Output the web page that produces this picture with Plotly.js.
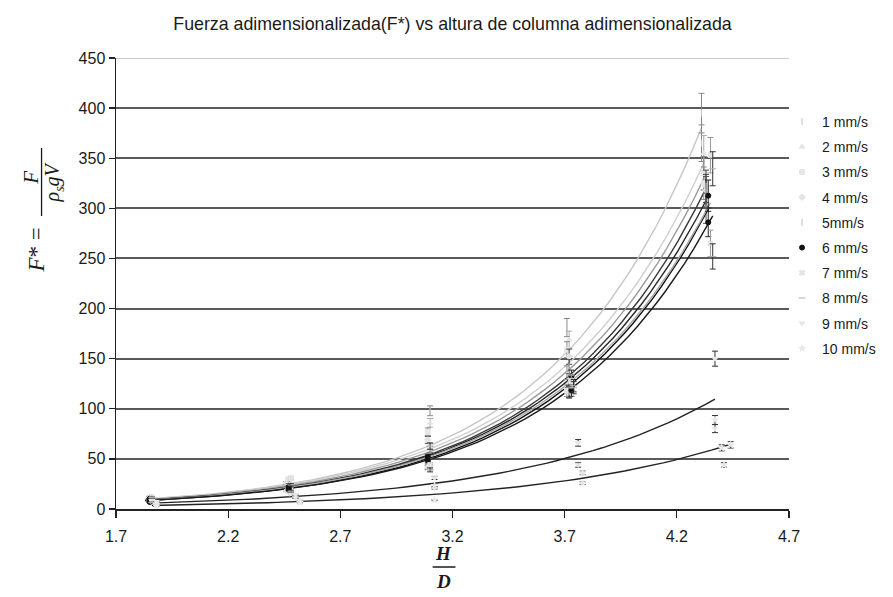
<!DOCTYPE html>
<html>
<head>
<meta charset="utf-8">
<script src="https://cdn.plot.ly/plotly-3.0.1.min.js"></script>
<style>html,body{margin:0;padding:0;background:#fff;}#chart{width:893px;height:597px;}</style>
</head>
<body>
<div id="chart"></div>
<script>
// ---- data (repeated tests at each H/D level) ----
const seriesNames = ['1 mm/s','2 mm/s','3 mm/s','4 mm/s','5mm/s','6 mm/s','7 mm/s','8 mm/s','9 mm/s','10 mm/s'];

const x1 = [1.85, 1.85, 2.47, 2.47, 3.10, 3.10, 3.71, 3.71, 4.31, 4.31];
const y1 = [9, 11, 22, 28.4, 41, 98, 136, 181, 365, 395];
const x2 = [1.85, 1.85, 2.48, 2.48, 3.10, 3.10, 3.72, 3.72, 4.32, 4.32];
const y2 = [8, 12.5, 20, 30.5, 86, 42, 169, 126, 335, 355];
const x3 = [1.86, 1.86, 2.47, 2.47, 3.09, 3.09, 3.71, 3.71, 4.32, 4.32];
const y3 = [8, 11.6, 18, 29.6, 77, 41.3, 159, 118, 325, 335];
const x4 = [1.85, 1.85, 2.46, 2.46, 3.09, 3.09, 3.72, 3.72, 4.33, 4.33];
const y4 = [7, 11.6, 26, 18.1, 69, 41.8, 152, 116.4, 318, 322];
const x5 = [1.86, 1.86, 2.47, 2.47, 3.10, 3.10, 3.72, 3.72, 4.33, 4.33];
const y5 = [7.5, 11.1, 24, 19.8, 59, 48.3, 142, 117.2, 300, 316];
const x6 = [1.85, 1.85, 2.47, 2.47, 3.09, 3.09, 3.73, 3.73, 4.34, 4.34];
const y6 = [7, 10.3, 22, 19.3, 52, 48.3, 132, 118.4, 286, 312.6];
const x7 = [1.86, 1.86, 2.48, 2.48, 3.10, 3.10, 3.73, 3.73, 4.35, 4.35];
const y7 = [8, 10.4, 31, 15.5, 44, 62.4, 127, 128, 265, 353];
const x8 = [1.86, 1.86, 2.48, 2.48, 3.10, 3.10, 3.74, 3.74, 4.36, 4.36];
const y8 = [6.5, 11.4, 24, 17.8, 39, 62.8, 121, 123, 252, 339.5];
const x9 = [1.88, 1.88, 2.50, 2.50, 3.12, 3.12, 3.76, 3.76, 4.37, 4.37];
const y9 = [5, 7.2, 11, 14, 31, 21, 66, 43.9, 150, 80.2];
const x10 = [1.88, 1.88, 2.52, 2.52, 3.12, 3.12, 3.78, 3.78, 4.44, 4.40, 4.41, 4.37];
const y10 = [3, 4.3, 6.5, 8.4, 9, 23.4, 36, 25.8, 64, 61, 44, 88.8];

const xTickVals = [1.7, 2.2, 2.7, 3.2, 3.7, 4.2, 4.7];
const xTickText = ['1.7', '2.2', '2.7', '3.2', '3.7', '4.2', '4.7'];
const yTickVals = [0, 50, 100, 150, 200, 250, 300, 350, 400, 450];

// ---- styles ----
const xs = [x1,x2,x3,x4,x5,x6,x7,x8,x9,x10];
const ys = [y1,y2,y3,y4,y5,y6,y7,y8,y9,y10];
const markerColors = ['#c4c4c4','#e4e4e4','#e6e6e6','#e2e2e2','#bdbdbd','#111111','#e4e4e4','#b0b0b0','#e6e6e6','#e8e8e8'];
const markerSymbols = ['line-ns-open','triangle-up','square','diamond','line-ns-open','circle','x','line-ew-open','triangle-down','star'];
const lineColors = ['#c6c6c6','#cfcfcf','#9a9a9a','#3a3a3a','#262626','#111111','#a8a8a8','#1a1a1a','#222222','#222222'];
const errColors = ['#888','#aaa','#888','#444','#555','#222','#999','#333','#333','#333'];

// exponential trend line (least squares on ln y), as a spreadsheet trendline does
function expFit(xv, yv) {
  const n = xv.length;
  let sx=0, sy=0, sxx=0, sxy=0;
  for (let i=0;i<n;i++){ const l=Math.log(yv[i]); sx+=xv[i]; sy+=l; sxx+=xv[i]*xv[i]; sxy+=xv[i]*l; }
  const b = (n*sxy - sx*sy)/(n*sxx - sx*sx);
  const a = Math.exp((sy - b*sx)/n);
  return {a, b};
}

const traces = [];
for (let s=0; s<10; s++) {
  const f = expFit(xs[s], ys[s]);
  const lo = Math.min(...xs[s]) - 0.02, hi = Math.max(...xs[s]);
  const lx = [], ly = [];
  for (let k=0;k<=60;k++){ const xv = lo + (hi-lo)*k/60; lx.push(xv); ly.push(f.a*Math.exp(f.b*xv)); }
  traces.push({x: lx, y: ly, type:'scatter', mode:'lines', showlegend:false, hoverinfo:'skip',
    line:{color: lineColors[s], width: 1.4}});
}
for (let s=0; s<10; s++) {
  traces.push({x: xs[s], y: ys[s], type:'scatter', mode:'markers', name: seriesNames[s],
    legendgroup: 'g'+s,
    marker:{color: markerColors[s], size: 5, symbol: markerSymbols[s], line:{color: markerColors[s], width:1}},
    error_y:{type:'percent', value:5, color: errColors[s], thickness:1, width:3}});
}

const L=116, R=794, T=58, B=509;
const px = v => (v - L)/(R - L);
const py = v => (B - v)/(B - T);
const serif = '"Liberation Serif", "DejaVu Serif", serif';

const layout = {
  width: 893, height: 597,
  margin: {l: L, r: 893-R, t: T, b: 597-B, pad: 0},
  paper_bgcolor: '#fff', plot_bgcolor: '#fff',
  font: {family: '"Liberation Sans", Arial, sans-serif', color: '#1a1a1a', size: 16},
  title: {text: 'Fuerza adimensionalizada(F*) vs altura de columna adimensionalizada',
    font: {size: 17.8, color: '#1a1a1a'}, x: 0.5, xref: 'paper', y: 1 - 24/597, yref: 'container', yanchor: 'middle'},
  xaxis: {range: [1.7, 4.7], tickvals: xTickVals, ticktext: xTickText, showgrid: false, zeroline: false,
    showline: true, linecolor: '#222', linewidth: 1.5, ticks: 'outside', ticklen: 7, tickwidth: 1.3, tickcolor: '#222',
    ticklabelstandoff: 5, tickfont: {size: 16}},
  yaxis: {range: [0, 450], tickvals: yTickVals, showgrid: true, gridcolor: '#5a5a5a', gridwidth: 2, zeroline: false,
    showline: true, linecolor: '#222', linewidth: 1.5, ticks: 'outside', ticklen: 6, tickwidth: 1.3, tickcolor: '#222',
    tickfont: {size: 16}},
  showlegend: true,
  legend: {x: px(787), y: py(106), xanchor: 'left', yanchor: 'top', bgcolor: 'rgba(0,0,0,0)',
    font: {size: 14, color: '#1a1a1a'}, traceorder: 'grouped', tracegroupgap: 4, itemwidth: 30},
  annotations: [
    {xref:'paper', yref:'paper', x: px(35), y: py(250), text: '<i>F</i>* =', showarrow:false, textangle:-90,
      xanchor:'center', yanchor:'middle', font:{family: serif, size:23, color:'#1a1a1a'}},
    {xref:'paper', yref:'paper', x: px(30), y: py(178), text: '<i>F</i>', showarrow:false, textangle:-90,
      xanchor:'center', yanchor:'middle', font:{family: serif, size:21, color:'#1a1a1a'}},
    {xref:'paper', yref:'paper', x: px(53), y: py(182), text: '<i>ρ<sub>s</sub>gV</i>', showarrow:false, textangle:-90,
      xanchor:'center', yanchor:'middle', font:{family: serif, size:20, color:'#1a1a1a'}},
    {xref:'paper', yref:'paper', x: px(446), y: py(553), text: '<b><i>H</i></b>', showarrow:false,
      xanchor:'center', yanchor:'middle', font:{family: serif, size:19, color:'#1a1a1a'}},
    {xref:'paper', yref:'paper', x: px(446), y: py(581), text: '<b><i>D</i></b>', showarrow:false,
      xanchor:'center', yanchor:'middle', font:{family: serif, size:19, color:'#1a1a1a'}}
  ],
  shapes: [
    {type:'line', xref:'paper', yref:'paper', x0: px(41), x1: px(41), y0: py(148), y1: py(216), line:{color:'#1a1a1a', width:1.3}},
    {type:'line', xref:'paper', yref:'paper', x0: px(435), x1: px(458), y0: py(567), y1: py(567), line:{color:'#1a1a1a', width:1.5}},
    {type:'line', xref:'paper', yref:'y', x0: 0, x1: 1, y0: yTickVals[yTickVals.length-1], y1: yTickVals[yTickVals.length-1], line:{color:'#bbb', width:1.3}}
  ]
};

Plotly.newPlot('chart', traces, layout, {displayModeBar: false, staticPlot: true});
</script>
</body>
</html>
